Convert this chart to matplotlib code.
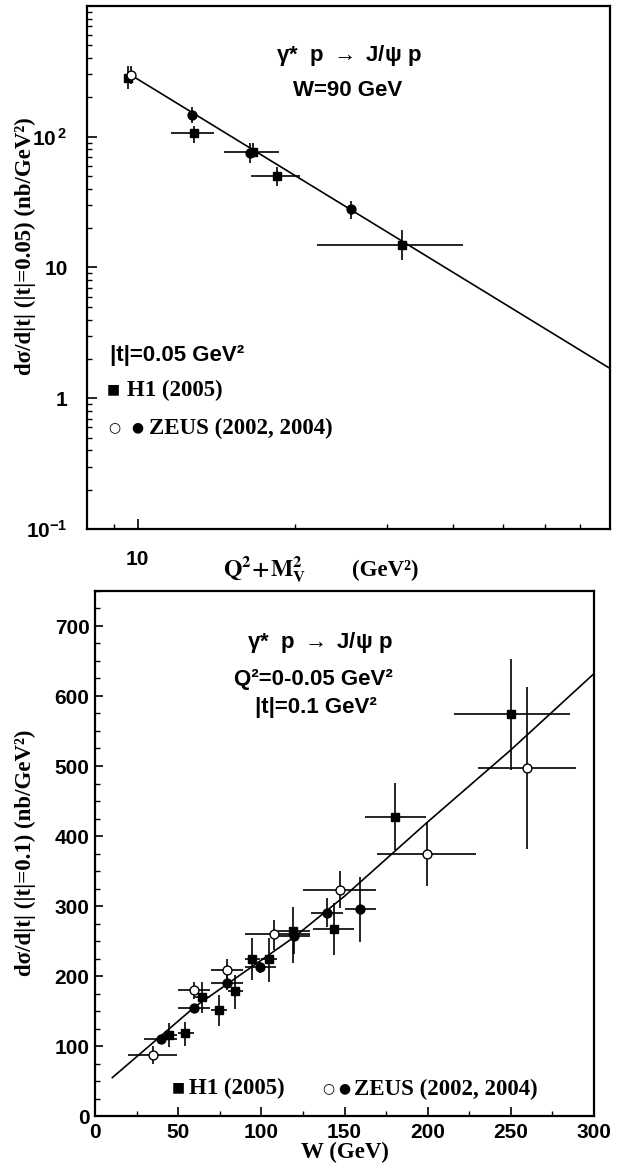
import numpy as np
import matplotlib
matplotlib.use("Agg")
import matplotlib.pyplot as plt
from matplotlib.ticker import FixedLocator, NullFormatter

plt.rcParams['font.family'] = ['Liberation Sans', 'DejaVu Sans']
plt.rcParams['font.weight'] = 'bold'
plt.rcParams['mathtext.fontset'] = 'custom'
plt.rcParams['mathtext.rm'] = 'Liberation Sans'
plt.rcParams['mathtext.bf'] = 'Liberation Sans:bold'
plt.rcParams['mathtext.it'] = 'Liberation Sans:italic'

# ---- top panel: d sigma/d|t| vs Q^2+M_V^2 at W=90 GeV ----
h1_q_x = np.array([9.6, 12.8, 16.6, 18.5, 32.0])
h1_q_y = np.array([280, 106, 77, 50.4, 14.8])
h1_q_xlo = np.array([9.6, 11.6, 14.6, 16.5, 22.0])
h1_q_xhi = np.array([9.6, 14.0, 18.6, 20.45, 41.9])
h1_q_ylo = np.array([230, 90, 71, 42, 11.5])
h1_q_yhi = np.array([350, 121, 90, 59, 19.5])

zeus_open_q_x = np.array([9.7])
zeus_open_q_y = np.array([295])
zeus_open_q_ylo = np.array([255])
zeus_open_q_yhi = np.array([350])

zeus_full_q_x = np.array([12.7, 16.4, 25.6])
zeus_full_q_y = np.array([147, 75, 28.1])
zeus_full_q_ylo = np.array([128, 63, 23.5])
zeus_full_q_yhi = np.array([170, 90, 32])

fit_q_x = np.array([9.7, 80])
fit_q_y = np.array([297, 1.69])

# ---- bottom panel: d sigma/d|t| vs W ----
h1_w_x = np.array([44.4, 54.4, 64.4, 74.6, 84.4, 94.4, 104.4, 119, 143.4, 180.6, 250.4])
h1_w_y = np.array([115.7, 118, 169.5, 151.4, 178.6, 224.3, 224.3, 264.8, 267, 427.6, 573.8])
h1_w_xlo = np.array([40, 50, 60, 70, 80, 90, 100, 110, 131, 162.4, 215.6])
h1_w_xhi = np.array([49, 59.4, 69, 79.4, 89, 99.4, 109.4, 129, 156, 199, 285.4])
h1_w_ylo = np.array([99, 100.5, 146.7, 129, 153.3, 194, 192, 219, 230, 380, 494])
h1_w_yhi = np.array([132.4, 133.8, 191.9, 172.9, 201, 255, 255, 298, 304, 476, 653])

zeus_full_w_x = np.array([39.6, 59.6, 79.6, 99.4, 119.6, 139.4, 159.4])
zeus_full_w_y = np.array([110, 154.8, 189.5, 212.4, 257, 290.5, 295.7])
zeus_full_w_xlo = np.array([29.6, 50, 70, 90, 110, 130, 150])
zeus_full_w_xhi = np.array([49, 69, 89, 109, 129, 149, 169])
zeus_full_w_ylo = np.array([106, 149, 180, 204, 232, 270, 249])
zeus_full_w_yhi = np.array([114, 160, 201, 220, 270, 311, 341])

zeus_open_w_x = np.array([34.8, 59.6, 79.6, 107.4, 147.4, 199.4, 259.6])
zeus_open_w_y = np.array([87.6, 179.5, 208.6, 260.5, 322.9, 374, 497.6])
zeus_open_w_xlo = np.array([20, 50, 70, 90, 125, 169.6, 230])
zeus_open_w_xhi = np.array([49.4, 69, 89, 129, 169, 229, 289])
zeus_open_w_ylo = np.array([75, 167, 194, 237, 297, 328, 382])
zeus_open_w_yhi = np.array([100, 191, 225, 280, 350, 418, 613])

fit_w_x = np.array([10.4, 60, 120, 150, 199, 250, 300])
fit_w_y = np.array([54.8, 156, 256, 314, 418, 523, 632])

W, H = 622, 1170
fig = plt.figure(figsize=(W / 100, H / 100), dpi=100)


def fpos(px, py):
    return px / W, 1 - py / H


def errs(x, y, xlo=None, xhi=None, ylo=None, yhi=None):
    xe = None if xlo is None else [x - xlo, xhi - x]
    ye = None if ylo is None else [y - ylo, yhi - y]
    return xe, ye


def draw(ax, x, y, xe, ye, marker, face):
    ax.errorbar(x, y, xerr=xe, yerr=ye, fmt='none', ecolor='black',
                elinewidth=1.2, capsize=0, zorder=3)
    ax.plot(x, y, linestyle='none', marker=marker, ms=6.4, mfc=face,
            mec='black', mew=1.0, zorder=4)


serif = dict(family='Liberation Serif', weight='bold', fontsize=16.5)
sans = dict(family=['Liberation Sans', 'DejaVu Sans'], weight='bold', fontsize=16)
sym = dict(family='DejaVu Sans', fontsize=10, ha='center', va='center')

# ---------------- top ----------------
ax1 = fig.add_axes([87 / W, 1 - 529 / H, (610 - 87) / W, (529 - 6) / H])
ax1.set_xscale('log')
ax1.set_yscale('log')
ax1.set_xlim(8, 80)
ax1.set_ylim(0.1, 1000)

ax1.plot(fit_q_x, fit_q_y, color='black', lw=1.2, zorder=2)
xe, ye = errs(h1_q_x, h1_q_y, h1_q_xlo, h1_q_xhi, h1_q_ylo, h1_q_yhi)
draw(ax1, h1_q_x, h1_q_y, xe, ye, 's', 'black')
xe, ye = errs(zeus_open_q_x, zeus_open_q_y, None, None, zeus_open_q_ylo, zeus_open_q_yhi)
draw(ax1, zeus_open_q_x, zeus_open_q_y, xe, ye, 'o', 'white')
xe, ye = errs(zeus_full_q_x, zeus_full_q_y, None, None, zeus_full_q_ylo, zeus_full_q_yhi)
draw(ax1, zeus_full_q_x, zeus_full_q_y, xe, ye, 'o', 'black')

ax1.xaxis.set_major_locator(FixedLocator([10]))
ax1.xaxis.set_minor_locator(FixedLocator([9, 20, 30, 40, 50, 60, 70]))
ax1.set_xticklabels(['10'])
ax1.xaxis.set_minor_formatter(NullFormatter())
ax1.yaxis.set_major_locator(FixedLocator([0.1, 1, 10, 100]))
ax1.yaxis.set_minor_locator(FixedLocator(
    [m * d for d in (0.1, 1, 10, 100) for m in range(2, 10)]))
ax1.set_yticklabels([r'$\mathbf{10^{-1}}$', '1', '10', r'$\mathbf{10^{\,2}}$'])
ax1.yaxis.set_minor_formatter(NullFormatter())
ax1.tick_params(which='both', direction='in', top=False, right=False, labelsize=15)
ax1.tick_params(axis='y', which='major', length=7, width=1.2, pad=14)
ax1.tick_params(axis='y', which='minor', length=3.5, width=1.0)
ax1.tick_params(axis='x', which='major', length=7, width=1.2, pad=15)
ax1.tick_params(axis='x', which='minor', length=3.5, width=1.0)
for s in ax1.spines.values():
    s.set_linewidth(1.6)

fig.text(*fpos(349, 56), r'$\mathrm{\gamma}$*  p $\rightarrow$ J/$\mathrm{\psi}$ p',
         ha='center', va='center', **sans)
fig.text(*fpos(348, 90), 'W=90 GeV', ha='center', va='center', **sans)
fig.text(*fpos(110, 355), '|t|=0.05 GeV²', ha='left', va='center', **sans)
fig.text(*fpos(113, 389), '■', **sym)
fig.text(*fpos(127, 390), 'H1 (2005)', ha='left', va='center', **serif)
fig.text(*fpos(114, 427), '○', **sym)
fig.text(*fpos(137, 427), '●', **sym)
fig.text(*fpos(149, 428), 'ZEUS (2002, 2004)', ha='left', va='center', **serif)

fig.text(*fpos(25, 246), 'dσ/d|t| (|t|=0.05) (nb/GeV²)', rotation=90,
         ha='center', va='center', **serif)
fig.text(*fpos(265, 570), r'$\mathbf{Q^2\!+\!M_V^2}$', ha='center', va='center',
         math_fontfamily='stix', fontsize=17)
fig.text(*fpos(385, 570), '(GeV²)', ha='center', va='center', **serif)

# ---------------- bottom ----------------
ax2 = fig.add_axes([95 / W, 1 - 1116 / H, (594 - 95) / W, (1116 - 591) / H])
ax2.set_xlim(0, 300)
ax2.set_ylim(0, 750)

ax2.plot(fit_w_x, fit_w_y, color='black', lw=1.2, zorder=2)
xe, ye = errs(h1_w_x, h1_w_y, h1_w_xlo, h1_w_xhi, h1_w_ylo, h1_w_yhi)
draw(ax2, h1_w_x, h1_w_y, xe, ye, 's', 'black')
xe, ye = errs(zeus_full_w_x, zeus_full_w_y, zeus_full_w_xlo, zeus_full_w_xhi,
              zeus_full_w_ylo, zeus_full_w_yhi)
draw(ax2, zeus_full_w_x, zeus_full_w_y, xe, ye, 'o', 'black')
xe, ye = errs(zeus_open_w_x, zeus_open_w_y, zeus_open_w_xlo, zeus_open_w_xhi,
              zeus_open_w_ylo, zeus_open_w_yhi)
draw(ax2, zeus_open_w_x, zeus_open_w_y, xe, ye, 'o', 'white')

ax2.set_xticks(np.arange(0, 301, 50))
ax2.set_xticks(np.arange(0, 301, 25), minor=True)
ax2.set_yticks(np.arange(0, 701, 100))
ax2.set_yticks(np.arange(0, 751, 25), minor=True)
ax2.tick_params(which='both', direction='in', top=False, right=False, labelsize=15)
ax2.tick_params(axis='y', which='major', length=6, width=1.2, pad=4)
ax2.tick_params(axis='y', which='minor', length=3.5, width=1.0)
ax2.tick_params(axis='x', which='major', length=6.5, width=1.2, pad=5)
ax2.tick_params(axis='x', which='minor', length=3.5, width=1.0)
for s in ax2.spines.values():
    s.set_linewidth(1.6)

fig.text(*fpos(320, 642), r'$\mathrm{\gamma}$*  p $\rightarrow$ J/$\mathrm{\psi}$ p',
         ha='center', va='center', **sans)
fig.text(*fpos(313, 680), 'Q²=0-0.05 GeV²', ha='center', va='center', **sans)
fig.text(*fpos(316, 708), '|t|=0.1 GeV²', ha='center', va='center', **sans)

fig.text(*fpos(178, 1087), '■', **sym)
fig.text(*fpos(189, 1088), 'H1 (2005)', ha='left', va='center', **serif)
fig.text(*fpos(328, 1088), '○', **sym)
fig.text(*fpos(344, 1088), '●', **sym)
fig.text(*fpos(354, 1089), 'ZEUS (2002, 2004)', ha='left', va='center', **serif)

fig.text(*fpos(25, 853), 'dσ/d|t| (|t|=0.1) (nb/GeV²)', rotation=90,
         ha='center', va='center', **serif)
fig.text(*fpos(345, 1152), 'W (GeV)', ha='center', va='center', **serif)

fig.savefig('out.png', dpi=100)
